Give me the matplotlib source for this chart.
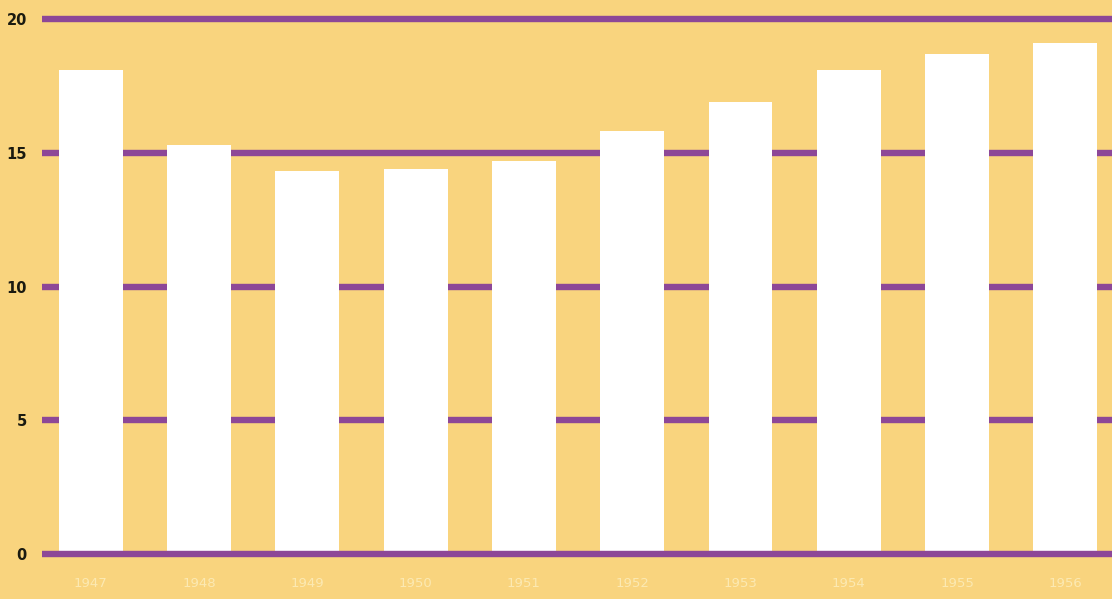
import matplotlib.pyplot as plt

# values
years = ["1947", "1948", "1949", "1950", "1951", "1952", "1953", "1954", "1955", "1956"]
values = [18.1, 15.3, 14.3, 14.4, 14.7, 15.8, 16.9, 18.1, 18.7, 19.1]
yticks = [0, 5, 10, 15, 20]

bg = "#F9D47E"
purple = "#8D4797"

fig = plt.figure(figsize=(11.12, 5.99), dpi=100, facecolor=bg)
ax = fig.add_axes([0.0378, 0.0484, 0.9622, 0.9466])
ax.set_facecolor(bg)

x = range(len(years))
ax.bar(x, values, width=0.59, color="white", zorder=2)

# grid lines behind the bars, baseline on top
for v in yticks:
    z = 3 if v == 0 else 1
    ax.axhline(v, color=purple, lw=4.6, solid_capstyle="butt", zorder=z)

ax.set_xlim(-0.45, 9.43)
ax.set_ylim(-0.6, 20.6)

ax.set_yticks(yticks)
ax.set_yticklabels([str(v) for v in yticks], fontsize=10.5, fontweight="bold",
                   color="#1a1a10")
ax.set_xticks(list(x))
ax.set_xticklabels(years, fontsize=9.5, color="#FCE9B2")
ax.tick_params(axis="y", length=0, pad=11)
ax.tick_params(axis="x", length=0, pad=5)
for s in ax.spines.values():
    s.set_visible(False)

fig.savefig("out.png", dpi=100, facecolor=bg)
